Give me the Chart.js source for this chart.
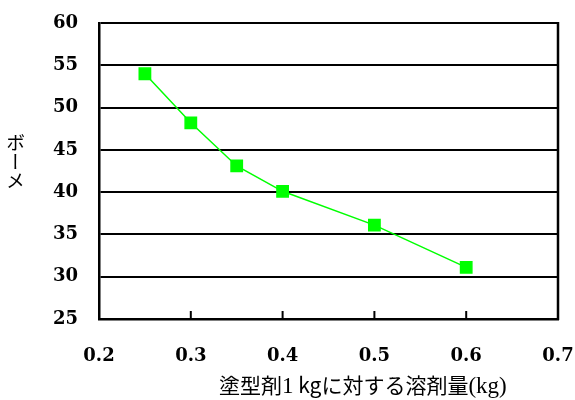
<!DOCTYPE html>
<html>
<head>
<meta charset="utf-8">
<script src="https://cdn.jsdelivr.net/npm/chart.js@4/dist/chart.umd.min.js"></script>
<style>
  body { margin: 0; background: #fff; }
  #wrap { position: relative; width: 575px; height: 400px; }
  #yTitle {
    position: absolute; left: 6px; top: 133px;
    writing-mode: vertical-rl;
    font: 19px "Noto Sans CJK JP", sans-serif;
    line-height: 19px; color: #000;
  }
  #xTitle {
    position: absolute; left: 219px; top: 372px; white-space: nowrap;
    font: 21px "Noto Sans CJK JP", sans-serif;
    line-height: 25px; color: #000;
  }
  #xTitle .s { font-family: "Liberation Serif", serif; font-size: 23px; }
</style>
</head>
<body>
<div id="wrap">
  <canvas id="chart" width="575" height="400"></canvas>
  <div id="yTitle">ボーメ</div>
  <div id="xTitle">塗型剤<span class="s">1</span> kgに対する溶剤量<span class="s">(kg)</span></div>
</div>
<script>
const solventAmount = [0.25, 0.3, 0.35, 0.4, 0.5, 0.6];
const baume = [54.0, 48.2, 43.1, 40.1, 36.1, 31.1];
const xTicks = [0.2, 0.3, 0.4, 0.5, 0.6, 0.7];
const yTicks = [25, 30, 35, 40, 45, 50, 55, 60];

// right frame edge + short tick marks pointing up into the plot from the bottom axis
const frameTicks = {
    id: 'frameTicks',
    afterDatasetsDraw(chart) {
        const x = chart.scales.x;
        const ctx = chart.ctx;
        const { top, bottom, right } = chart.chartArea;
        ctx.save();
        ctx.strokeStyle = '#000';
        ctx.lineWidth = 2.5;
        ctx.beginPath();
        ctx.moveTo(right, top - 1);
        ctx.lineTo(right, bottom + 1);
        ctx.stroke();
        ctx.lineWidth = 2;
        xTicks.slice(1, -1).forEach((v) => {
            const px = x.getPixelForValue(v);
            ctx.beginPath();
            ctx.moveTo(px, bottom);
            ctx.lineTo(px, bottom - 8);
            ctx.stroke();
        });
        ctx.restore();
    },
};

const tickFont = { family: 'DejaVu Serif', size: 18, weight: 'bold' };

new Chart(document.getElementById('chart').getContext('2d'), {
    type: 'scatter',
    data: {
        datasets: [
            {
                data: solventAmount.map((x, i) => ({ x: x, y: baume[i] })),
                showLine: true,
                borderColor: '#00ff00',
                backgroundColor: '#00ff00',
                borderWidth: 1.5,
                pointStyle: 'rect',
                pointRadius: 8,
                pointHoverRadius: 8,
            },
        ],
    },
    options: {
        responsive: false,
        animation: false,
        layout: { padding: { top: 23, right: 17, left: 0, bottom: 0 } },
        plugins: { legend: { display: false }, tooltip: { enabled: false } },
        scales: {
            x: {
                type: 'linear',
                min: xTicks[0],
                max: xTicks[xTicks.length - 1],
                afterBuildTicks: (s) => { s.ticks = xTicks.map((v) => ({ value: v })); },
                afterFit: (s) => { s.height = 81; },
                grid: { drawOnChartArea: false, drawTicks: true, tickLength: 27, tickColor: 'rgba(0,0,0,0)' },
                border: { color: '#000', width: 2.5 },
                ticks: {
                    padding: 0,
                    color: '#000',
                    font: tickFont,
                    callback: (v) => v.toFixed(1),
                },
            },
            y: {
                min: yTicks[0],
                max: yTicks[yTicks.length - 1],
                afterBuildTicks: (s) => { s.ticks = yTicks.map((v) => ({ value: v })); },
                afterFit: (s) => { s.width = 99; },
                grid: { color: '#000', lineWidth: 2, drawTicks: true, tickLength: 20, tickColor: 'rgba(0,0,0,0)' },
                border: { color: '#000', width: 2.5 },
                ticks: { padding: 1, color: '#000', font: tickFont },
            },
        },
    },
    plugins: [frameTicks],
});
</script>
</body>
</html>
